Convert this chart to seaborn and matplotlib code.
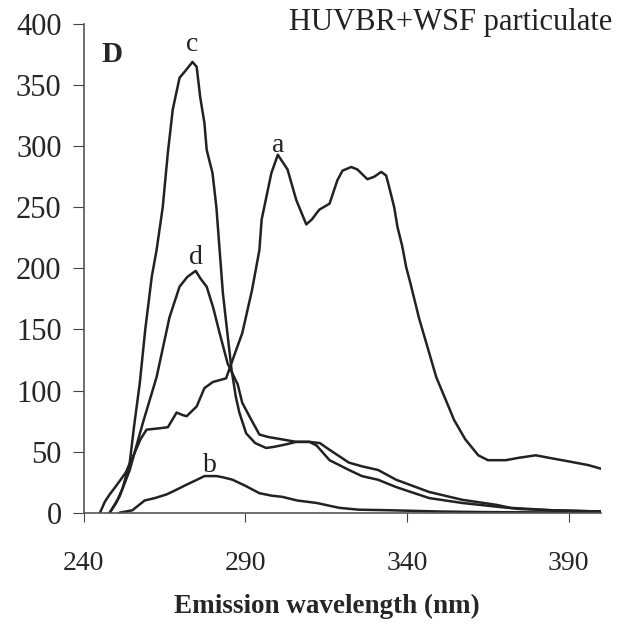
import matplotlib
matplotlib.use("Agg")
import matplotlib.pyplot as plt
import seaborn as sns

# emission spectra
a_nm = [245, 246.5, 248, 250, 253, 255.7, 257.5, 259.4, 263, 266, 268.7, 270.5, 271.8, 274.9,
        277.3, 279.9, 284, 286, 289, 292, 294.3, 295, 298, 300, 303, 305.7, 308.8, 310.5,
        312.8, 316, 318.4, 320, 322.7, 324.6, 327.7, 329.8, 332, 333.5, 334.4, 336, 337,
        338.5, 339.7, 341, 343.7, 346.8, 349, 352, 354.5, 358, 362, 365, 370.5, 374.6,
        379.8, 383.8, 390, 396, 400]
a_val = [0, 9, 15, 22, 33, 49, 60, 68, 69, 70, 82, 80, 79, 87,
         102, 107, 110, 125, 147, 182, 215, 240, 278, 293, 281, 256, 236, 240,
         248, 253, 272, 280, 283, 281, 273, 275, 279, 276, 267, 250, 234,
         218, 201, 188, 159, 131, 111, 92, 76, 60, 47, 43, 43, 45,
         47, 45, 42, 39, 36]

b_nm = [251, 255, 258.8, 262, 265.6, 268, 271.8, 275, 277.3, 281, 283, 286, 290, 294.3,
        298, 301.4, 306, 312, 319, 325, 335, 350, 365, 400]
b_val = [0, 2, 10, 12, 15, 18, 23, 27, 30, 30, 29, 27, 22, 16,
         14, 13, 10, 8, 4, 2.5, 2, 1, 0.5, 0]

c_nm = [248, 250, 252, 254.2, 255.5, 257.3, 259, 261, 262.5, 264.4, 266, 267.5, 269.6,
        271.5, 273.6, 274.9, 276, 277.3, 278, 279.8, 281, 282, 283, 284.4, 285.7, 287,
        288.1, 290.2, 293, 296.4, 299, 302.6, 305.7, 309.8, 312, 316, 322, 326, 331,
        336.6, 346.8, 357, 367.5, 375, 385, 400]
c_val = [0, 8, 20, 41, 70, 106, 150, 193, 215, 250, 295, 330, 356,
         362, 369, 365, 340, 319, 297, 278, 250, 215, 180, 147, 117, 95,
         82, 65, 57, 53, 54, 56, 58, 58, 55, 43, 35, 30, 27,
         21, 12, 8, 5, 3, 2, 1]

d_nm = [248, 251, 254.2, 258.2, 262.5, 266.5, 269.6, 272, 274.6, 276, 278, 280, 282,
        284.5, 287.6, 289, 291.2, 294.3, 297, 301.4, 305.7, 309.8, 313, 316, 322, 326,
        331, 336.6, 346.8, 357, 367.5, 372, 385, 400]
d_val = [0, 13, 35, 73, 111, 160, 185, 193, 198, 192, 185, 168, 147,
         122, 105, 90, 79, 64, 62, 60, 58, 58, 57, 51.5, 41, 38,
         35, 27, 17, 10.6, 6.5, 4, 2, 1]

curves = {"a": (a_nm, a_val), "b": (b_nm, b_val), "c": (c_nm, c_val), "d": (d_nm, d_val)}
labels = {"a": (300, 301), "b": (279, 39), "c": (273.6, 383), "d": (274.6, 209)}

sns.set_style("ticks")
plt.rcParams["font.family"] = ["Liberation Serif", "DejaVu Serif"]

fig = plt.figure(figsize=(6.21, 6.33), dpi=100)
ax = fig.add_axes([0.135, 0.19, 0.833, 0.772])

for name, (x, y) in curves.items():
    sns.lineplot(x=x, y=y, ax=ax, color="#222222", linewidth=1.8, sort=False, estimator=None)
    lx, ly = labels[name]
    ax.text(lx, ly, name, fontsize=20, ha="center", va="center", color="#222222")

ax.text(248.6, 375, "D", fontsize=21, fontweight="bold", ha="center", va="center")
fig.text(0.9855, 0.965, "HUVBR+WSF particulate", fontsize=22, ha="right", va="center",
         color="#222222")

ax.set_xlim(240, 400)
ax.set_ylim(0, 400)
ax.set_xticks([240, 290, 340, 390])
ax.set_yticks(range(0, 401, 50))
ax.set_xlabel("Emission wavelength (nm)", fontsize=19.5, fontweight="bold", labelpad=13)
ax.xaxis.label.set_x(0.47)
ax.set_ylabel("")
ax.tick_params(axis="x", labelsize=20, length=6.5, pad=21, color="#444444")
ax.tick_params(axis="y", labelsize=22, length=8, pad=8, color="#444444")
sns.despine(ax=ax)
for s in ["left", "bottom"]:
    ax.spines[s].set_color("#555555")
    ax.spines[s].set_linewidth(1.2)

fig.savefig("out.png", dpi=100)
